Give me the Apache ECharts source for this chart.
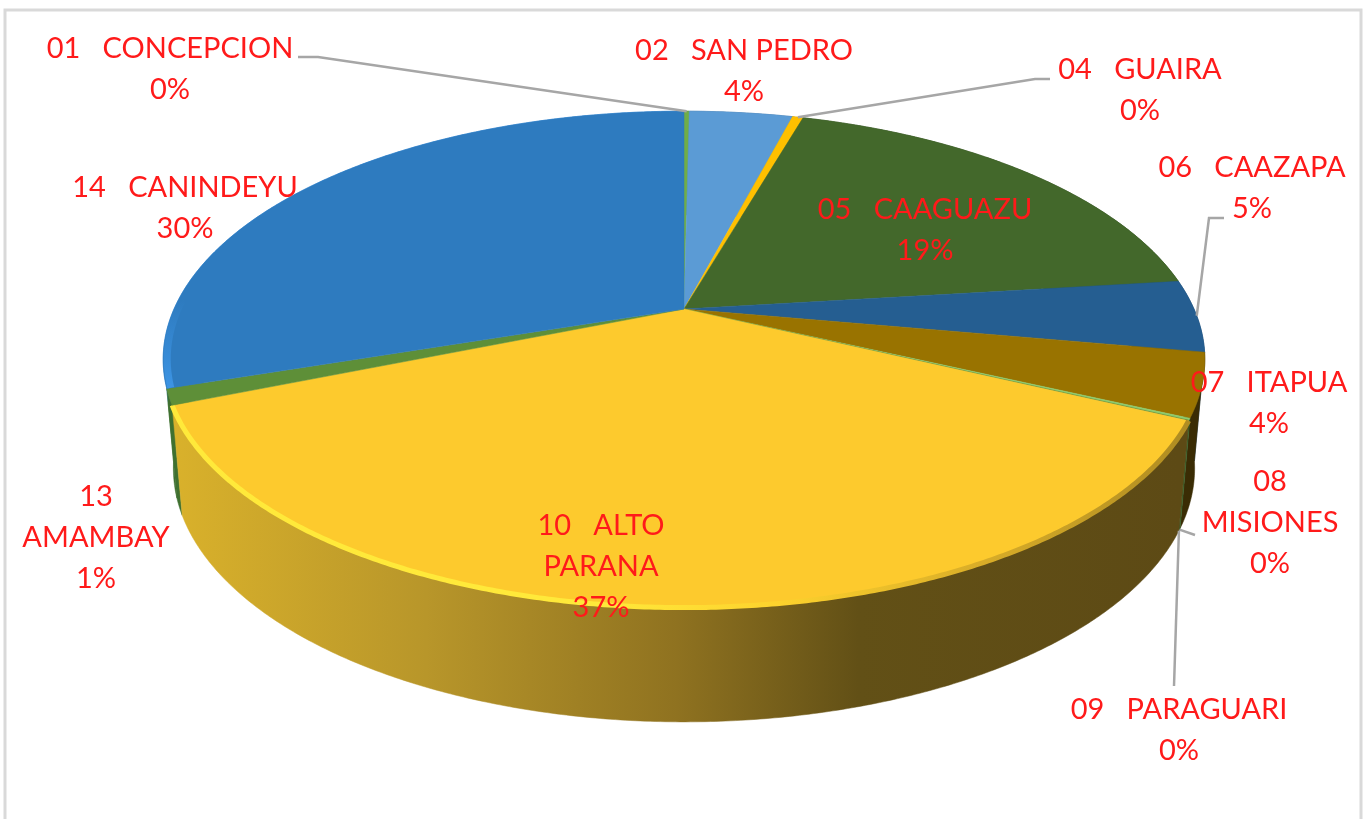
<!DOCTYPE html>
<html>
<head>
<meta charset="utf-8">
<style>html,body{margin:0;padding:0;background:#fff}#c{width:1364px;height:819px;filter:blur(0.55px)}</style>
<script src="https://cdn.jsdelivr.net/npm/echarts@6/dist/echarts.min.js"></script>
</head>
<body>
<div id="c"></div>
<script>
// ---- data ----
var departments = ['01   CONCEPCION','02   SAN PEDRO','04   GUAIRA','05   CAAGUAZU','06   CAAZAPA','07   ITAPUA','08\nMISIONES','09   PARAGUARI','10   ALTO\nPARANA','13\nAMAMBAY','14   CANINDEYU'];
var shares = [0.2, 3.9, 0.4, 18.6, 4.7, 4.1, 0.12, 0.03, 36.85, 1.04, 30.06];
var shownPercent = ['0%','4%','0%','19%','5%','4%','0%','0%','37%','1%','30%'];

// ---- styles ----
var topColors = ['#70ad47','#5b9bd5','#ffc000','#43682b','#255e91','#997300','#8ccb6c','#4f7f35','#fdca2d','#5e8f38','#2e7bbf'];
var wallColors = ['#4f7f35','#3f6f9c','#b38600','#2c451c','#1a4368','#3a2c04','#3f6b30','#2f4f20','#8c6f1f','#3f7030','#3d95e5'];
var labelCentres = [[170,69],[744,71],[1140,90],[925,230],[1252,188],[1269,403],[1270,523],[1179,730],[601,567],[96,538],[185,208]];
var leaderElbows = [[[318,57],[298,57]],null,[[1035,79],[1050,79]],null,[[1209,218],[1224,218]],null,[[1195,535]],[[1174,686]],null,null,null];
var leaderOnBase = [false,false,false,false,false,false,true,true,false,false,false];

// ---- projection of the tilted disc ----
var K = 0.203;
var TOP = {cx:684, cy:309, R:510, Ry:238};
var BASE = {cx:684, cy:417, R:500, Ry:243};
function project(disc, t){
  var u = Math.sin(t), v = -Math.cos(t), w = 1 - K*v;
  return [disc.cx + disc.R*u/w, disc.cy + disc.Ry*v/w];
}
function arc(disc, a, b){
  var n = Math.max(2, Math.ceil(Math.abs(b-a)/0.008)), pts = [];
  for (var i=0;i<=n;i++) pts.push(project(disc, a+(b-a)*i/n));
  return pts;
}
var total = shares.reduce(function(s,v){return s+v;},0);
function startAngle(i){
  var s = 0; for (var j=0;j<i;j++) s += shares[j];
  return s/total*2*Math.PI;
}
var rows = shares.map(function(v,i){return [v,i];});
var biggest = shares.indexOf(Math.max.apply(null,shares));
var lastSlice = shares.length-1;

var wallGradient = new echarts.graphic.LinearGradient(175,0,1180,0,[
  {offset:0,color:'#d9b12b'},{offset:0.25,color:'#b8962a'},{offset:0.5,color:'#8f7220'},
  {offset:0.68,color:'#625016'},{offset:1,color:'#5d4a15'}],true);
var rimGradient = new echarts.graphic.LinearGradient(175,0,1180,0,[
  {offset:0,color:'#ffe93a'},{offset:0.42,color:'#ffe93a'},{offset:0.6,color:'#fdd22d'},
  {offset:0.8,color:'#d9ad28'},{offset:1,color:'#b08d22'}],true);
var blueEdge = new echarts.graphic.LinearGradient(0,300,0,392,[
  {offset:0,color:'rgba(61,149,229,0)'},{offset:1,color:'#3d95e5'}],true);
var blueWall = new echarts.graphic.LinearGradient(0,380,0,420,[
  {offset:0,color:'#3d95e5'},{offset:0.5,color:'#3d95e5'},{offset:0.6,color:'#3f7030'},{offset:1,color:'#3f7030'}],true);

var chart = echarts.init(document.getElementById('c'));
chart.setOption({
  animation:false,
  backgroundColor:'#ffffff',
  graphic:[{type:'rect',silent:true,shape:{x:5,y:10,width:1356,height:830},style:{fill:'#fff',stroke:'#d9d9d9',lineWidth:3}}],
  series:[
    { type:'custom', coordinateSystem:'none', z:2, silent:true, clip:false, data:rows,
      renderItem:function(params,api){
        var i = api.value(1), a = startAngle(i), b = a + api.value(0)/total*2*Math.PI;
        var pts = arc(TOP,a,b).concat(arc(BASE,a,b).reverse());
        var mid = (a+b)/2;
        var fill = i===biggest ? wallGradient : (i===lastSlice ? blueWall : wallColors[i]);
        return {type:'polygon', z2:Math.round(100-100*Math.cos(mid)),
          shape:{points:pts},
          style:{fill:fill,stroke:fill,lineWidth:0.5}};
      }},
    { type:'custom', coordinateSystem:'none', z:3, silent:true, clip:false, data:rows,
      renderItem:function(params,api){
        var i = api.value(1), a = startAngle(i), b = a + api.value(0)/total*2*Math.PI;
        var rim = arc(TOP,a,b);
        var kids = [{type:'polygon',shape:{points:[[TOP.cx,TOP.cy]].concat(rim)},
          style:{fill:topColors[i],stroke:topColors[i],lineWidth:0.5}}];
        if (i===biggest) kids.push({type:'polyline',shape:{points:rim},style:{fill:null,stroke:rimGradient,lineWidth:5}});
        if (i===lastSlice) kids.push({type:'polyline',shape:{points:arc({cx:684,cy:309,R:506,Ry:236},a,a+0.9)},style:{fill:null,stroke:blueEdge,lineWidth:7}});
        return {type:'group',children:kids};
      }},
    { type:'custom', coordinateSystem:'none', z:4, silent:true, clip:false, data:rows,
      renderItem:function(params,api){
        var i = api.value(1), a = startAngle(i), b = a + api.value(0)/total*2*Math.PI;
        var kids = [];
        if (leaderElbows[i]) {
          var anchor = project(leaderOnBase[i]?BASE:TOP,(a+b)/2);
          kids.push({type:'polyline',shape:{points:[anchor].concat(leaderElbows[i])},
            style:{fill:null,stroke:'#a6a6a6',lineWidth:2.5}});
        }
        kids.push({type:'text',x:labelCentres[i][0],y:labelCentres[i][1],
          style:{text:departments[i]+'\n'+shownPercent[i],fill:'#ff1a1a',align:'center',verticalAlign:'middle',
            font:'29px Lato',lineHeight:41}});
        return {type:'group',children:kids};
      }}
  ]
});
</script>
</body>
</html>
